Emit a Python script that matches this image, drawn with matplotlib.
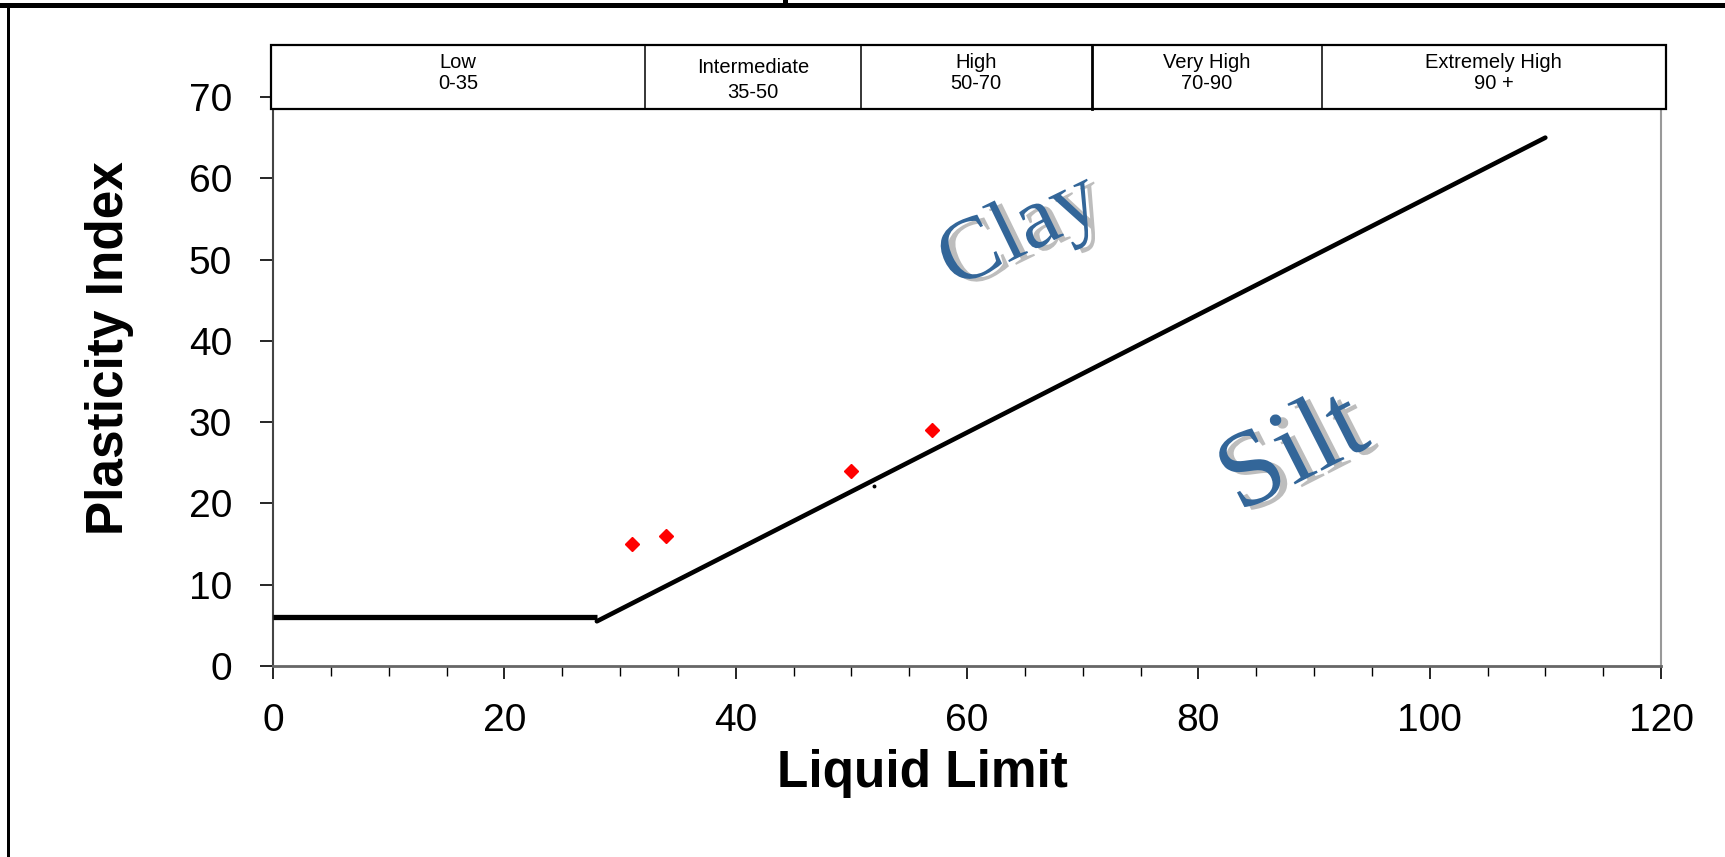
import matplotlib
matplotlib.use('Agg')
from matplotlib import pyplot as plt
from matplotlib.patches import Rectangle
import matplotlib.patheffects as pe

plt.rcParams['font.family'] = ['Liberation Sans', 'DejaVu Sans']

# plasticity chart data
samples_ll = [31, 34, 50, 57]
samples_pi = [15, 16, 24, 29]

uline_ll = [0, 28]
uline_pi = [6, 6]
aline_ll = [28, 110]
aline_pi = [5.5, 65]

stray_ll = [52]
stray_pi = [22.2]

band_names = ['Low', 'Intermediate', 'High', 'Very High', 'Extremely High']
band_ranges = ['0-35', '35-50', '50-70', '70-90', '90 +']
band_edges = [-0.2, 32.2, 50.8, 70.8, 90.7, 120.4]

x_ticks = [0, 20, 40, 60, 80, 100, 120]
y_ticks = [0, 10, 20, 30, 40, 50, 60, 70]

fig = plt.figure(figsize=(17.25, 8.57), dpi=100)
ax = fig.add_axes([273 / 1725, 1 - 666 / 857, 1388 / 1725, 569 / 857])

ax.plot(uline_ll, uline_pi, color='black', lw=3.8, solid_capstyle='butt', zorder=3)
ax.plot(aline_ll, aline_pi, color='black', lw=3.3, solid_capstyle='round', zorder=3)
ax.plot(samples_ll, samples_pi, 'D', color='red', markersize=7.5, mec='red', zorder=4)
ax.plot(stray_ll, stray_pi, 'o', color='black', markersize=1.8, zorder=4)

ax.set_xlim(0, 120)
ax.set_ylim(0, 70)
ax.set_xticks(x_ticks)
ax.set_xticks(range(0, 121, 5), minor=True)
ax.set_yticks(y_ticks)
ax.tick_params(axis='x', which='major', length=9.4, width=1.2, pad=17, labelsize=28, direction='out')
ax.tick_params(axis='x', which='minor', length=7, width=1.0, direction='out')
ax.tick_params(axis='y', which='major', length=9.4, width=1.2, pad=20, labelsize=28, direction='out')

ax.spines['top'].set_visible(False)
ax.spines['left'].set_color('#444444')
ax.spines['left'].set_linewidth(1.5)
ax.spines['bottom'].set_color('#666666')
ax.spines['bottom'].set_linewidth(2.0)
ax.spines['right'].set_color('#999999')
ax.spines['right'].set_linewidth(1.5)

ax.set_xlabel('Liquid Limit', fontsize=37, fontweight='bold', va='baseline')
ax.xaxis.set_label_coords(0.468, -0.2127)
ax.set_ylabel('Plasticity Index', fontsize=37, fontweight='bold', va='center')
ax.yaxis.set_label_coords(-0.118, 0.559)

# plasticity band box on top
box_lo, box_hi = 68.52, 76.4
ax.add_patch(Rectangle((band_edges[0], box_lo), band_edges[-1] - band_edges[0], box_hi - box_lo,
                       facecolor='white', edgecolor='black', lw=1.6, clip_on=False, zorder=10))
for e in band_edges[1:-1]:
    ax.plot([e, e], [box_lo, box_hi], color='black', lw=1.1 if e != 70.8 else 2.0,
            clip_on=False, zorder=11)
for i, (name, rng) in enumerate(zip(band_names, band_ranges)):
    cx = (band_edges[i] + band_edges[i + 1]) / 2
    if name == 'Intermediate':
        y1, y2 = 73.6, 70.5
    else:
        y1, y2 = 74.3, 71.7
    ax.text(cx, y1, name, ha='center', va='center', fontsize=14.5, zorder=12, clip_on=False)
    ax.text(cx, y2, rng, ha='center', va='center', fontsize=14.5, zorder=12, clip_on=False)

shadow = [pe.SimplePatchShadow(offset=(5, -2), shadow_rgbFace='#bdbdbd', alpha=1.0), pe.Normal()]
ax.text(64.6, 53.3, 'Clay', fontsize=64, family='Liberation Serif', color='#336699',
        rotation=26, ha='center', va='center', path_effects=shadow, zorder=5)
ax.text(88.3, 25.9, 'Silt', fontsize=78, family='Liberation Serif', color='#336699',
        rotation=27, ha='center', va='center', path_effects=shadow, zorder=5)

# page frame pieces
fig.add_artist(Rectangle((0, 1 - 8 / 857), 1, 5 / 857, transform=fig.transFigure,
                         facecolor='black', edgecolor='none'))
fig.add_artist(Rectangle((783 / 1725, 1 - 3 / 857), 5 / 1725, 3 / 857, transform=fig.transFigure,
                         facecolor='black', edgecolor='none'))
fig.add_artist(Rectangle((7 / 1725, 0), 3 / 1725, 1 - 3 / 857, transform=fig.transFigure,
                         facecolor='black', edgecolor='none'))

fig.savefig('out.png', dpi=100)
